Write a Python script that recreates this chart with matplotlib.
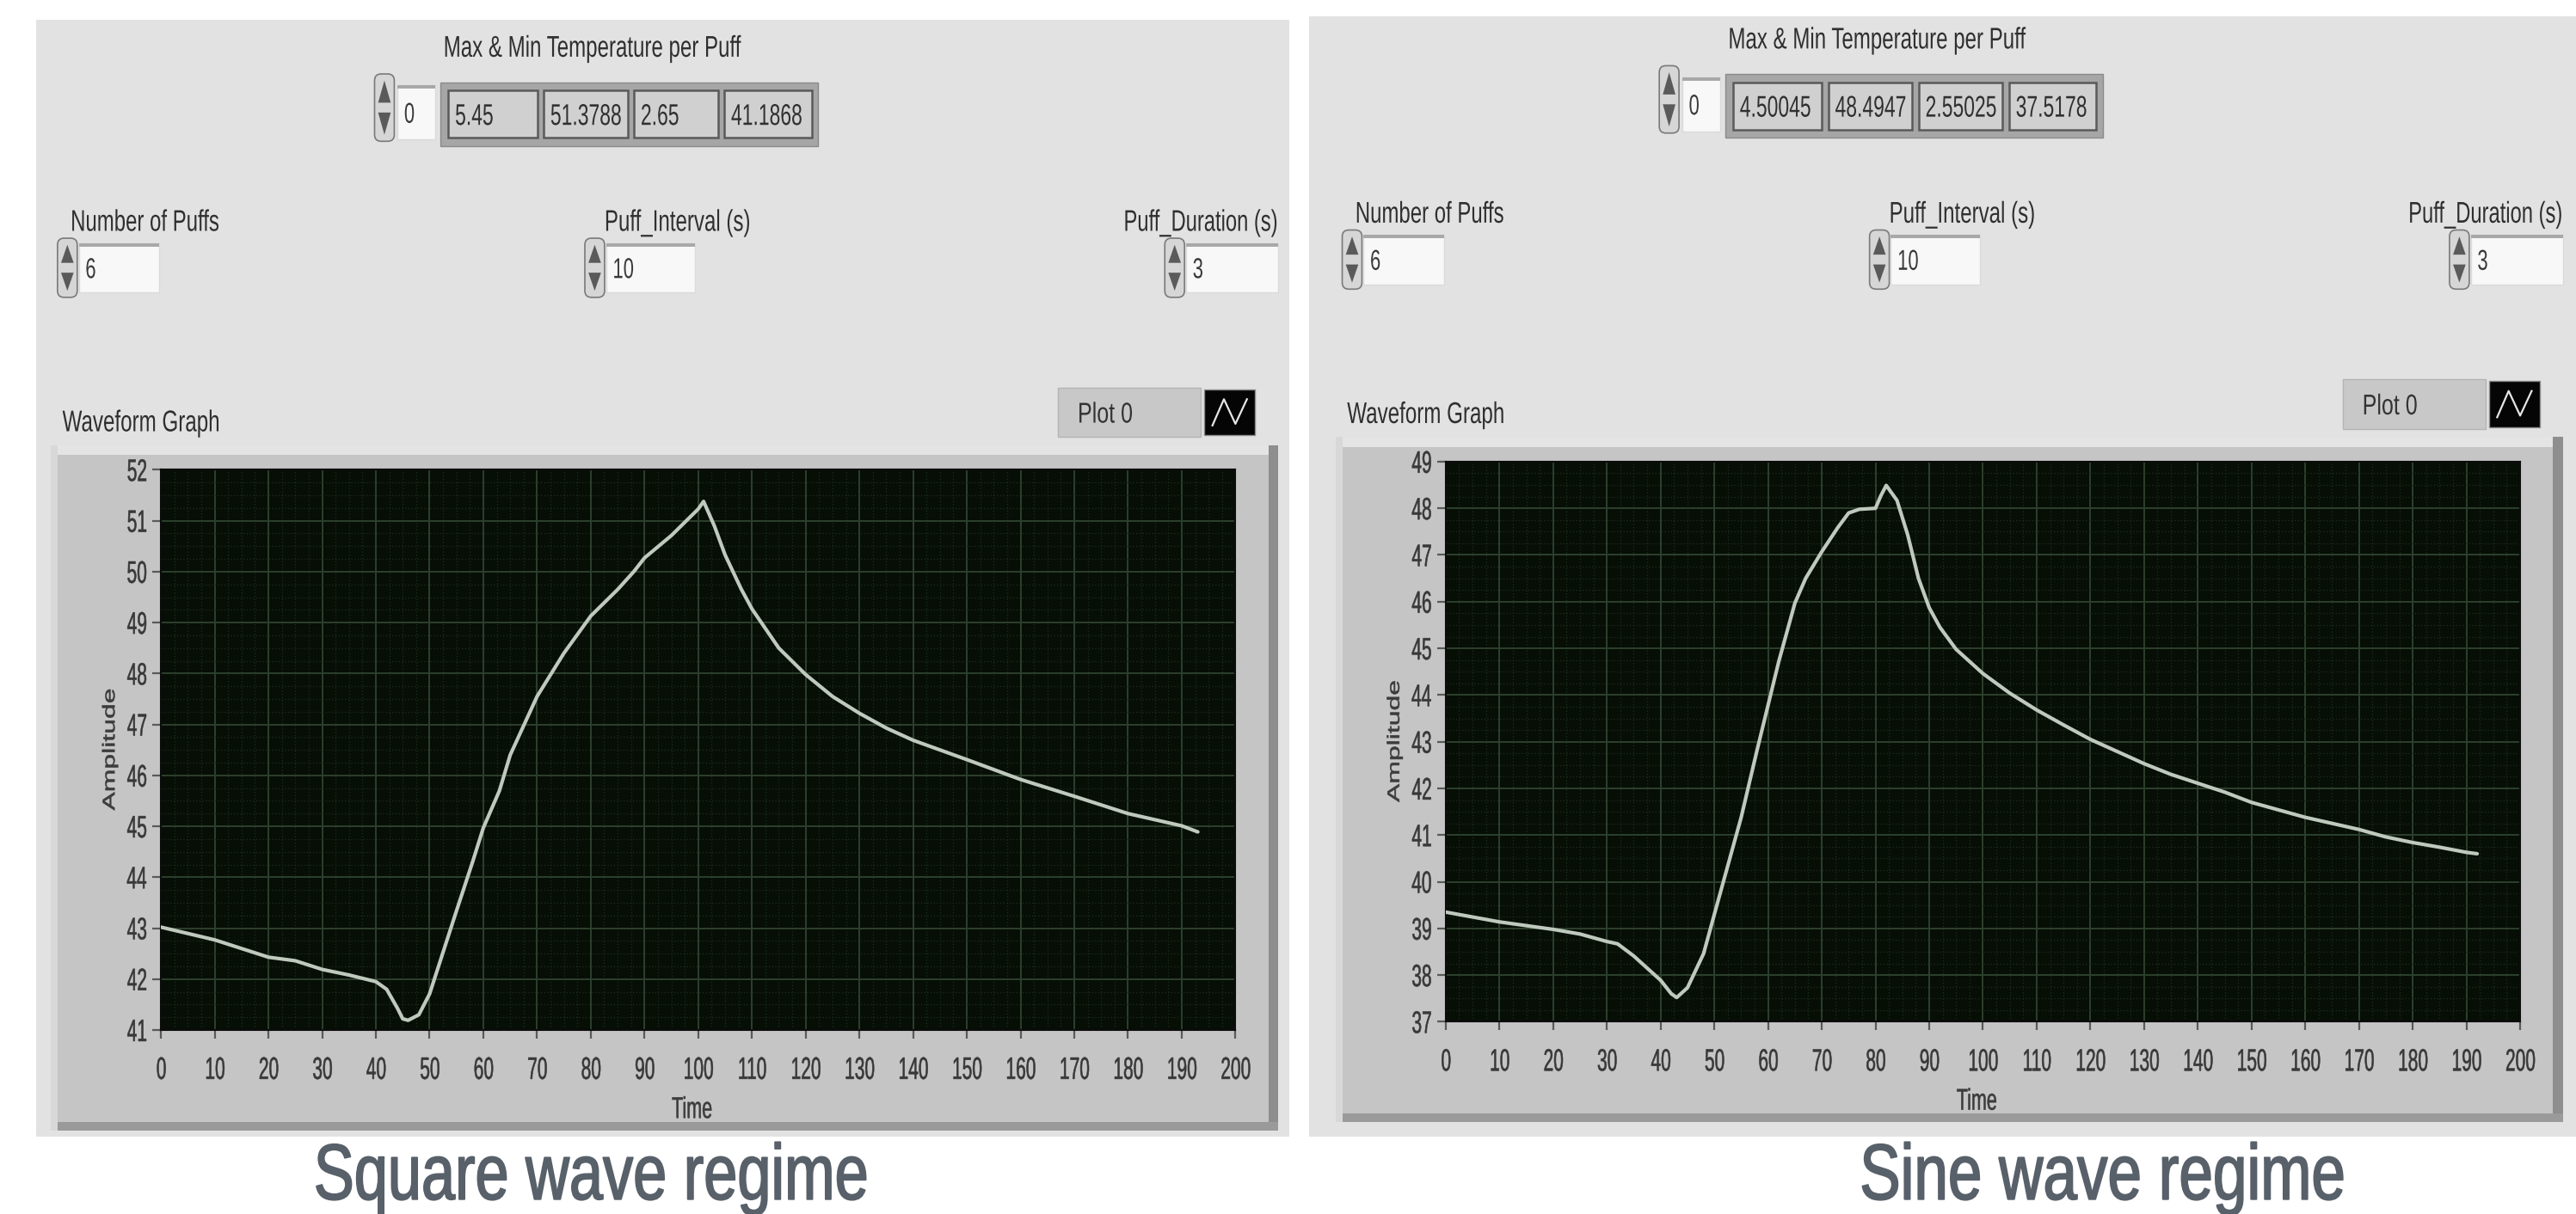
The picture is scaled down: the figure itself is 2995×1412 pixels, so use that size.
import numpy as np
import matplotlib
matplotlib.use("Agg")
import matplotlib.pyplot as plt
from matplotlib.patches import Rectangle, Polygon, PathPatch, FancyBboxPatch
from matplotlib.ticker import MultipleLocator
from matplotlib.textpath import TextPath
from matplotlib.font_manager import FontProperties
from matplotlib.transforms import Affine2D

# ---------------- data ----------------
sq_t = [0, 10, 20, 25, 30, 35, 40, 42, 44, 45, 46, 48, 50, 55, 58, 60, 63, 65, 70, 75, 80, 85, 88, 90,
        95, 100, 101, 103, 105, 108, 110, 115, 120, 125, 130, 135, 140, 150, 160, 170, 180, 190, 193]
sq_v = [43.02, 42.77, 42.43, 42.36, 42.19, 42.08, 41.95, 41.8, 41.43, 41.22, 41.19, 41.3, 41.71, 43.34,
        44.3, 44.97, 45.7, 46.4, 47.55, 48.4, 49.13, 49.65, 50.0, 50.27, 50.71, 51.23, 51.38, 50.9,
        50.33, 49.66, 49.27, 48.5, 47.98, 47.55, 47.22, 46.93, 46.69, 46.31, 45.92, 45.59, 45.25,
        45.01, 44.89]

sn_t = [0, 10, 20, 25, 30, 32, 35, 40, 42, 43, 45, 48, 50, 55, 58, 60, 62, 65, 67, 70, 73, 75, 77, 80,
        81, 82, 84, 86, 88, 90, 92, 95, 100, 105, 110, 115, 120, 125, 130, 135, 140, 145, 150, 155,
        160, 165, 170, 175, 180, 185, 190, 192]
sn_v = [39.35, 39.14, 38.98, 38.88, 38.72, 38.67, 38.41, 37.89, 37.6, 37.52, 37.73, 38.46, 39.3, 41.38,
        42.84, 43.78, 44.72, 45.97, 46.5, 47.07, 47.59, 47.9, 47.98, 48.0, 48.27, 48.49, 48.17, 47.43,
        46.5, 45.87, 45.45, 44.98, 44.46, 44.04, 43.68, 43.36, 43.05, 42.79, 42.53, 42.3, 42.11, 41.92,
        41.7, 41.54, 41.38, 41.25, 41.12, 40.96, 40.84, 40.74, 40.63, 40.6]

sq_table = ["5.45", "51.3788", "2.65", "41.1868"]
sn_table = ["4.50045", "48.4947", "2.55025", "37.5178"]
controls_labels = ["Number of Puffs", "Puff_Interval (s)", "Puff_Duration (s)"]
sq_controls = ["6", "10", "3"]
sn_controls = ["6", "10", "3"]
sq_ylim = (41, 52)
sn_ylim = (37, 49)
x_lim = (0, 200)
titles = ["Square wave regime", "Sine wave regime"]

# ---------------- layout (reference display units 1568x739) ----------------
W, H = 1568.0, 739.0
SC = 2995.0 / W
plt.rcParams['font.family'] = ['Liberation Sans', 'DejaVu Sans']

fig = plt.figure(figsize=(29.95, 14.12), dpi=100)
fig.patch.set_facecolor('white')
bg = fig.add_axes([0, 0, 1, 1])
bg.set_xlim(0, W)
bg.set_ylim(H, 0)
bg.axis('off')


def ctext(x, y, s, size, width=None, sx=0.66, color='#2f2f2f', ha='left', va='center',
          weight='normal', lw=0.0, rot=False, sy=1.0, z=6):
    fp = FontProperties(family='Liberation Sans', weight=weight)
    em = size * 100.0 / 72.0 / SC
    tp = TextPath((0, 0), s, size=em, prop=fp)
    v = tp.vertices
    x0, x1 = v[:, 0].min(), v[:, 0].max()
    if width is not None:
        sx = width / (x1 - x0)
    cap = 0.716 * em
    ox = {'left': -x0, 'center': -(x0 + x1) / 2, 'right': -x1}[ha]
    oy = -cap / 2 if va == 'center' else 0
    if rot:
        tr = Affine2D().translate(ox, oy).scale(1.0, sy).rotate_deg(90)
    else:
        tr = Affine2D().translate(ox, oy).scale(sx, sy)
    tr = tr.scale(1, -1).translate(x, y)
    path = tr.transform_path(tp)
    bg.add_patch(PathPatch(path, facecolor=color, edgecolor=color if lw else 'none',
                           linewidth=lw, joinstyle='round', zorder=z))


def rect(x0, y0, x1, y1, fc, ec='none', lw=0, z=1):
    bg.add_patch(Rectangle((x0, y0), x1 - x0, y1 - y0, facecolor=fc, edgecolor=ec, linewidth=lw, zorder=z))


def spinner(x0, x1, y0, y1):
    bg.add_patch(FancyBboxPatch((x0, y0), x1 - x0, y1 - y0, boxstyle="round,pad=0,rounding_size=4",
                                facecolor='#d6d6d6', edgecolor='#7a7a7a', lw=1.2, zorder=3))
    xm, ym = (x0 + x1) / 2, (y0 + y1) / 2
    w = (x1 - x0) * 0.32
    bg.add_patch(Polygon([[xm - w, ym - 3], [xm + w, ym - 3], [xm, y0 + 4]], closed=True,
                         facecolor='#5a5a5a', edgecolor='none', zorder=4))
    bg.add_patch(Polygon([[xm - w, ym + 3], [xm + w, ym + 3], [xm, y1 - 4]], closed=True,
                         facecolor='#5a5a5a', edgecolor='none', zorder=4))


def numbox(x0, y0, x1, y1, txt):
    rect(x0, y0, x1, y1, '#f8f8f8', '#dadada', 1, 3)
    rect(x0, y0, x1, y0 + 2, '#a8a8a8', z=4)
    ctext(x0 + 4, (y0 + y1) / 2, txt, 24, sx=0.66, color='#3a3a3a')


def to_bg(ax, xy):
    return bg.transData.inverted().transform(ax.transData.transform(xy))


def panel(dx, dy, table, ctrl, ylim, t, v, xt, title, title_w, pleft, pright):
    # panel background
    rect(pleft, 12 + dy * 0.4, pright, 692, '#e2e2e2', z=0)
    # Max & Min table
    ctext(270 + dx, 28 + dy, "Max & Min Temperature per Puff", 25, width=181)
    spinner(228 + dx, 240 + dx, 45 + dy, 86 + dy)
    numbox(242 + dx, 52 + dy, 265 + dx, 85 + dy, "0")
    rect(268 + dx, 50 + dy, 498 + dx, 89 + dy, '#a6a6a6', '#8a8a8a', 1, 2)
    cells = [(273, 327), (331, 382), (386, 437), (441, 494)]
    for (a, b), s in zip(cells, table):
        rect(a + dx, 55 + dy, b + dx, 84 + dy, '#d0d0d0', '#5a5a5a', 1.8, 3)
        ctext(a + dx + 4, 69.5 + dy, s, 25, sx=0.66, color='#303030')
    # controls
    lab = [(43, 90), (368, 88), (684, 93)]
    box = [(48, 97), (369, 423), (722, 778)]
    for (lx, lw_), (a, b), name, val in zip(lab, box, controls_labels, ctrl):
        ctext(lx + dx, 134 + dy, name, 25, width=lw_)
        spinner(a - 13 + dx, a - 1 + dx, 145 + dy, 181 + dy)
        numbox(a + dx, 148 + dy, b + dx, 178 + dy, val)
    ctext(38 + dx, 256 + dy, "Waveform Graph", 25, width=95)
    # legend "Plot 0"
    rect(644 + dx, 236 + dy, 731 + dx, 266 + dy, '#c8c8c8', '#b4b4b4', 1, 2)
    ctext(656 + dx, 251 + dy, "Plot 0", 24, width=33, color='#333333')
    rect(733 + dx, 237 + dy, 764 + dx, 265 + dy, '#050505', '#8a8a8a', 1, 3)
    bg.plot([738 + dx, 745 + dx, 752 + dx, 759 + dx], [259 + dy, 243 + dy, 258 + dy, 243 + dy],
            color='#e6e6e6', lw=1.6, zorder=4)
    # graph bezel
    rect(31 + dx, 271 + dy, 778 + dx, 688 + dy, '#c5c5c5', z=1)
    rect(31 + dx, 271 + dy, 778 + dx, 277 + dy, '#e4e4e4', z=1.5)
    rect(772 + dx, 271 + dy, 778 + dx, 688 + dy, '#8e8e8e', z=1.5)
    rect(31 + dx, 683 + dy, 778 + dx, 688 + dy, '#9a9a9a', z=1.5)
    rect(31 + dx, 271 + dy, 35 + dx, 688 + dy, '#d8d8d8', z=1.5)
    # data axes
    px0, py0, px1, py1 = 98 + dx, 286 + dy, 752 + dx, 627 + dy
    ax = fig.add_axes([px0 / W, 1 - py1 / H, (px1 - px0) / W, (py1 - py0) / H])
    ax.set_facecolor('#060e06')
    ax.set_xlim(*x_lim)
    ax.set_ylim(*ylim)
    ax.xaxis.set_major_locator(MultipleLocator(10))
    ax.xaxis.set_minor_locator(MultipleLocator(2.5))
    ax.yaxis.set_major_locator(MultipleLocator(1))
    ax.yaxis.set_minor_locator(MultipleLocator(0.25))
    ax.grid(which='major', color='#2d402d', lw=1.4, ls='-')
    ax.grid(which='minor', color='#1c2b1c', lw=1.0, ls=':')
    ax.set_axisbelow(True)
    for s in ax.spines.values():
        s.set_color('#0c0c0c')
        s.set_linewidth(1.5)
    ax.tick_params(which='major', direction='out', length=7, width=1.6, color='#5a5a5a',
                   labelbottom=False, labelleft=False)
    ax.tick_params(which='minor', length=0)
    ax.plot(t, v, color='#c0c9bd', lw=3.0, solid_joinstyle='round', solid_capstyle='round', zorder=3)
    # tick labels (condensed, like the LabVIEW screenshot), placed via the axes scales
    for xv in ax.get_xticks():
        if x_lim[0] <= xv <= x_lim[1]:
            bx, by = to_bg(ax, (xv, ylim[0]))
            ctext(bx, by + 23, "%d" % xv, 26, sx=0.58, ha='center', color='#383838', lw=0.4)
    for yv in ax.get_yticks():
        if ylim[0] <= yv <= ylim[1]:
            bx, by = to_bg(ax, (x_lim[0], yv))
            ctext(bx - 9, by, "%d" % yv, 26, sx=0.58, ha='right', color='#383838', lw=0.4)
    ctext((px0 + px1) / 2 - 4, py1 + 47, "Time", 25, sx=0.62, ha='center', color='#3c3c3c', lw=0.4)
    ctext(px0 - 32, (py0 + py1) / 2, "Amplitude", 23, rot=True, sy=0.62, ha='center', color='#3c3c3c',
          lw=0.4)
    # regime title
    ctext(xt, 730, title, 66, width=title_w, ha='center', va='baseline', weight='normal',
          color='#58606a', lw=1.3)
    return ax


panel(0, 0, sq_table, sq_controls, sq_ylim, sq_t, sq_v, 359, titles[0], 336, 22, 785)
panel(782, -5, sn_table, sn_controls, sn_ylim, sn_t, sn_v, 1279, titles[1], 294, 797, 1568)

fig.savefig("out.png", dpi=100, facecolor='white')
